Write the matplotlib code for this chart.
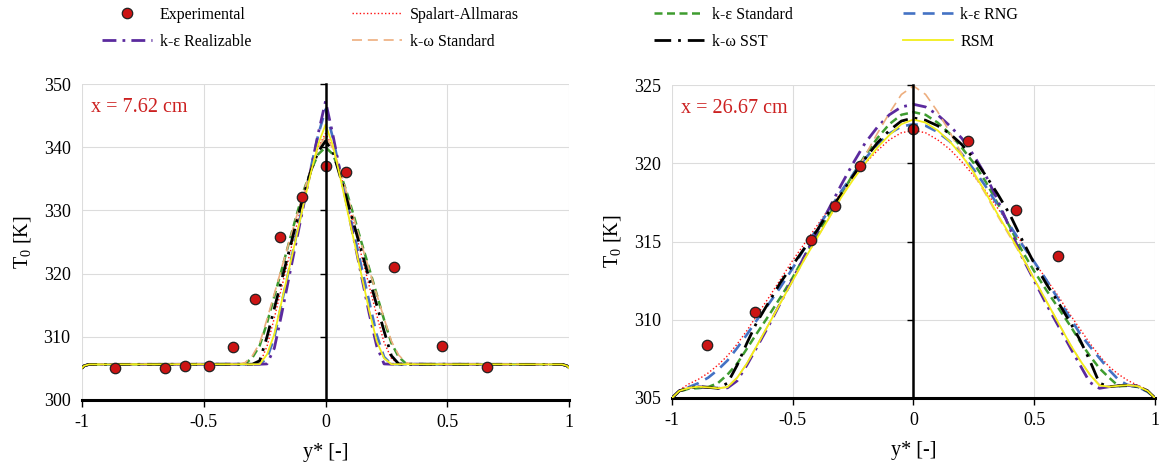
import matplotlib
matplotlib.use("Agg")
import matplotlib.pyplot as plt

plt.rcParams['font.family'] = ['Liberation Serif', 'DejaVu Serif']
plt.rcParams['mathtext.fontset'] = 'custom'
plt.rcParams['mathtext.rm'] = 'Liberation Serif'
plt.rcParams['mathtext.it'] = 'Liberation Serif:italic'

# ---------------- data: x = 7.62 cm ----------------
y_left = [-1.0, -0.99, -0.97, -0.40, -0.36, -0.33, -0.30, -0.27, -0.24, -0.21, -0.18,
          -0.15, -0.12, -0.09, -0.06, -0.03, 0.0, 0.03, 0.06, 0.09, 0.12, 0.15, 0.18,
          0.21, 0.24, 0.27, 0.30, 0.33, 0.36, 0.40, 0.97, 0.99, 1.0]
sa_left = [305.0, 305.4, 305.62, 305.65, 305.65, 305.65, 305.65, 305.7, 308.5, 313.0, 317.8,
           322.6, 327.4, 332.2, 336.6, 340.0, 342.2, 340.0, 336.0, 331.5, 327.0, 322.5, 317.9,
           313.4, 309.1, 306.6, 305.7, 305.65, 305.65, 305.65, 305.62, 305.4, 305.0]
kes_left = [305.0, 305.4, 305.62, 305.65, 305.65, 305.7, 306.7, 308.6, 312.2, 316.4, 320.6,
            324.9, 329.1, 333.1, 336.3, 338.9, 340.0, 338.9, 336.0, 332.5, 328.6, 324.6, 320.7,
            316.7, 312.7, 309.0, 306.8, 305.75, 305.65, 305.65, 305.62, 305.4, 305.0]
rng_left = [305.0, 305.4, 305.62, 305.65, 305.65, 305.65, 305.65, 305.65, 306.6, 309.9, 315.3,
            320.6, 326.0, 331.4, 336.8, 342.0, 346.0, 341.5, 336.1, 330.9, 325.8, 320.6, 315.4,
            310.3, 306.8, 305.65, 305.65, 305.65, 305.65, 305.65, 305.62, 305.4, 305.0]
rea_left = [305.0, 305.4, 305.62, 305.65, 305.65, 305.65, 305.65, 305.65, 305.7, 308.2, 313.6,
            319.4, 325.1, 330.8, 336.6, 342.2, 347.3, 342.0, 336.1, 330.4, 324.8, 319.1, 313.5,
            308.5, 305.7, 305.65, 305.65, 305.65, 305.65, 305.65, 305.62, 305.4, 305.0]
kws_left = [305.0, 305.4, 305.62, 305.65, 305.65, 305.9, 307.0, 309.0, 312.8, 316.8, 320.9,
            324.9, 328.9, 332.9, 336.6, 339.8, 341.8, 339.8, 336.4, 332.3, 328.2, 324.3, 320.5,
            316.7, 312.9, 309.3, 307.1, 305.9, 305.65, 305.65, 305.62, 305.4, 305.0]
sst_left = [305.0, 305.4, 305.62, 305.65, 305.65, 305.65, 305.65, 306.2, 310.0, 314.5, 319.0,
            323.5, 328.0, 332.4, 336.3, 339.3, 341.0, 339.3, 335.4, 331.4, 327.3, 323.2, 319.1,
            315.0, 310.9, 307.0, 305.7, 305.65, 305.65, 305.65, 305.62, 305.4, 305.0]
rsm_left = [305.0, 305.4, 305.62, 305.65, 305.65, 305.65, 305.65, 305.65, 307.2, 310.4, 315.6,
            320.7, 325.8, 331.0, 336.0, 340.5, 343.6, 340.3, 335.3, 329.9, 324.6, 319.3, 314.0,
            309.3, 306.6, 305.65, 305.65, 305.65, 305.65, 305.65, 305.62, 305.4, 305.0]
exp_y_left = [-0.862, -0.659, -0.576, -0.476, -0.379, -0.291, -0.187, -0.098, 0.0, 0.085,
              0.281, 0.479, 0.663]
exp_T_left = [305.1, 305.1, 305.3, 305.3, 308.3, 315.9, 325.8, 332.2, 337.0, 336.1,
              321.0, 308.6, 305.2]

# ---------------- data: x = 26.67 cm ----------------
y_right = [-1.0, -0.97, -0.93, -0.89, -0.85, -0.81, -0.77, -0.73, -0.69, -0.65, -0.60,
           -0.55, -0.50, -0.45, -0.40, -0.35, -0.30, -0.25, -0.20, -0.15, -0.10, -0.05,
           0.0, 0.05, 0.10, 0.15, 0.20, 0.25, 0.30, 0.35, 0.40, 0.45, 0.50, 0.55, 0.60,
           0.65, 0.69, 0.73, 0.77, 0.81, 0.85, 0.89, 0.93, 0.97, 1.0]
sa_right = [305.0, 305.5, 305.9, 306.2, 306.6, 307.1, 307.7, 308.45, 309.3, 310.25, 311.4,
            312.6, 313.8, 314.9, 316.0, 317.1, 318.1, 319.1, 320.0, 320.8, 321.5, 321.95,
            322.1, 321.95, 321.5, 320.9, 320.1, 319.2, 318.2, 317.1, 316.0, 314.9, 313.7,
            312.6, 311.5, 310.3, 309.4, 308.5, 307.7, 307.0, 306.5, 306.1, 305.8, 305.5, 305.0]
kes_right = [305.0, 305.4, 305.6, 305.63, 305.7, 305.95, 306.5, 307.2, 308.15, 309.1, 310.25,
             311.45, 312.7, 314.1, 315.4, 316.7, 318.0, 319.3, 320.5, 321.6, 322.5, 323.1,
             323.27, 323.1, 322.6, 321.9, 321.0, 320.0, 318.8, 317.4, 315.9, 314.4, 313.1,
             311.9, 310.75, 309.6, 308.6, 307.7, 306.9, 306.3, 305.75, 305.78, 305.7, 305.4, 305.0]
rng_right = [305.0, 305.45, 305.7, 305.95, 306.3, 306.8, 307.4, 308.2, 309.05, 309.95, 311.0,
             312.1, 313.3, 314.6, 315.8, 317.0, 318.2, 319.3, 320.3, 321.2, 321.9, 322.35,
             322.5, 322.4, 322.0, 321.4, 320.6, 319.6, 318.5, 317.3, 316.0, 314.8, 313.7,
             312.55, 311.3, 310.1, 309.1, 308.3, 307.55, 306.8, 306.15, 305.8, 305.7, 305.4, 305.0]
rea_right = [305.0, 305.45, 305.65, 305.72, 305.68, 305.62, 305.65, 306.1, 307.1, 308.2, 309.6,
             311.1, 312.6, 314.1, 315.6, 317.1, 318.6, 320.0, 321.3, 322.3, 323.1, 323.6,
             323.77, 323.6, 323.1, 322.4, 321.6, 320.5, 319.2, 317.6, 315.8, 314.0, 312.5,
             311.0, 309.6, 308.2, 307.1, 306.0, 305.62, 305.72, 305.78, 305.82, 305.75, 305.45, 305.0]
kws_right = [305.0, 305.45, 305.65, 305.72, 305.68, 305.62, 305.7, 306.3, 307.2, 308.3, 309.7,
             311.1, 312.5, 313.9, 315.2, 316.5, 317.8, 319.1, 320.5, 321.9, 323.2, 324.4,
             324.94, 324.4, 323.3, 322.0, 320.6, 319.3, 318.0, 316.6, 315.3, 314.0, 312.6,
             311.2, 309.8, 308.4, 307.4, 306.5, 305.85, 305.72, 305.78, 305.82, 305.75, 305.45, 305.0]
sst_right = [305.0, 305.45, 305.65, 305.72, 305.68, 305.62, 305.95, 307.1, 308.5, 309.8, 311.1,
             312.4, 313.5, 314.6, 315.7, 316.9, 318.0, 319.2, 320.3, 321.3, 322.1, 322.7,
             322.9, 322.75, 322.4, 321.9, 321.2, 320.3, 319.2, 318.0, 316.7, 315.1, 313.6,
             312.3, 311.1, 309.8, 308.7, 307.4, 305.95, 305.72, 305.78, 305.82, 305.75, 305.45, 305.0]
rsm_right = [305.0, 305.45, 305.65, 305.72, 305.68, 305.62, 305.7, 306.3, 307.2, 308.3, 309.7,
             311.1, 312.5, 313.9, 315.2, 316.5, 317.8, 318.95, 320.0, 321.0, 321.8, 322.5,
             322.8, 322.6, 322.1, 321.4, 320.5, 319.4, 318.1, 316.7, 315.4, 314.05, 312.6,
             311.2, 309.8, 308.4, 307.4, 306.5, 305.8, 305.72, 305.78, 305.82, 305.75, 305.45, 305.0]
exp_y_right = [-0.855, -0.655, -0.425, -0.327, -0.222, 0.0, 0.225, 0.425, 0.599]
exp_T_right = [308.4, 310.5, 315.1, 317.3, 319.8, 322.2, 321.4, 317.0, 314.1]

labels = ["Experimental", "Spalart-Allmaras", "k-\u03b5 Standard", "k-\u03b5 RNG",
          "k-\u03b5 Realizable", "k-\u03c9 Standard", "k-\u03c9 SST", "RSM"]

styles = {
    "sa":  dict(color="#FF1010", lw=1.0, linestyle=(0, (1, 1.6))),
    "kes": dict(color="#3E9C2F", lw=1.8, linestyle=(0, (3.2, 1.8))),
    "rng": dict(color="#4472C4", lw=1.9, linestyle=(0, (4.5, 2.8))),
    "rea": dict(color="#5B2A9E", lw=2.0, linestyle=(0, (5, 2.2, 1, 2.2))),
    "kws": dict(color="#EDAE7E", lw=1.2, linestyle=(0, (6, 3.5))),
    "sst": dict(color="black", lw=2.0, linestyle=(0, (6, 2.5, 1, 2.5))),
    "rsm": dict(color="#F2EE1A", lw=1.3, linestyle="-"),
}
exp_style = dict(linestyle="none", marker="o", markersize=7.5, markerfacecolor="#CC1414",
                 markeredgecolor="#222222", markeredgewidth=0.9)

fig = plt.figure(figsize=(11.61, 4.65), dpi=100)
ax1 = fig.add_axes([0.0704, 0.140, 0.420, 0.679])
ax2 = fig.add_axes([0.5788, 0.1441, 0.416, 0.673])


def draw(ax, ys, series, ey, eT, ylim, yticks, note):
    order = ["sa", "kes", "rng", "rea", "kws", "sst", "rsm"]
    handles = {}
    for key in order:
        h, = ax.plot(ys, series[key], zorder=3, **styles[key])
        handles[key] = h
    he, = ax.plot(ey, eT, zorder=5, **exp_style)
    handles["exp"] = he
    ax.set_xlim(-1, 1)
    ax.set_ylim(*ylim)
    ax.set_yticks(yticks)
    ax.set_xticks([-1, -0.5, 0, 0.5, 1])
    ax.set_xticklabels(["-1", "-0.5", "0", "0.5", "1"])
    ax.grid(True, color="#DCDCDC", lw=0.8, zorder=0)
    ax.set_axisbelow(True)
    for s in ["left", "right", "top"]:
        ax.spines[s].set_visible(False)
    ax.spines["bottom"].set_linewidth(2.2)
    ax.tick_params(axis="y", length=0, pad=8, labelsize=13)
    ax.tick_params(axis="x", length=5, width=1, direction="out", pad=5, labelsize=13)
    # central vertical axis with ticks
    tw = ax.twinx()
    tw.set_ylim(*ylim)
    tw.set_yticks(yticks)
    for s in ["left", "top", "bottom"]:
        tw.spines[s].set_visible(False)
    tw.spines["right"].set_position(("data", 0))
    tw.spines["right"].set_linewidth(1.8)
    tw.tick_params(axis="y", direction="in", length=4, width=1, labelright=False)
    ax.set_ylabel(r"T$_{\mathrm{0}}$ [K]", fontsize=14.5, labelpad=8)
    ax.set_xlabel("y* [-]", fontsize=14.5, labelpad=9)
    ax.text(0.018, 0.925, note, transform=ax.transAxes, color="#CC2020",
            fontsize=14.5, va="center", ha="left")
    return handles


h1 = draw(ax1, y_left,
          dict(sa=sa_left, kes=kes_left, rng=rng_left, rea=rea_left, kws=kws_left,
               sst=sst_left, rsm=rsm_left),
          exp_y_left, exp_T_left, (300, 350), [300, 310, 320, 330, 340, 350], "x = 7.62 cm")
h2 = draw(ax2, y_right,
          dict(sa=sa_right, kes=kes_right, rng=rng_right, rea=rea_right, kws=kws_right,
               sst=sst_right, rsm=rsm_right),
          exp_y_right, exp_T_right, (305, 325), [305, 310, 315, 320, 325], "x = 26.67 cm")

cols = [(["exp", "rea"], [labels[0], labels[4]], 102),
        (["sa", "kws"], [labels[1], labels[5]], 352),
        (["kes", "sst"], [labels[2], labels[6]], 654),
        (["rng", "rsm"], [labels[3], labels[7]], 903)]
for keys, labs, xpx in cols:
    fig.legend([h1[k] for k in keys], labs, loc="upper left",
               bbox_to_anchor=(xpx / 1161, 1 - 7 / 465), frameon=False, fontsize=11.5,
               handlelength=3.1, handletextpad=0.5, borderpad=0, borderaxespad=0,
               labelspacing=0.68)

fig.savefig("out.png", dpi=100)
